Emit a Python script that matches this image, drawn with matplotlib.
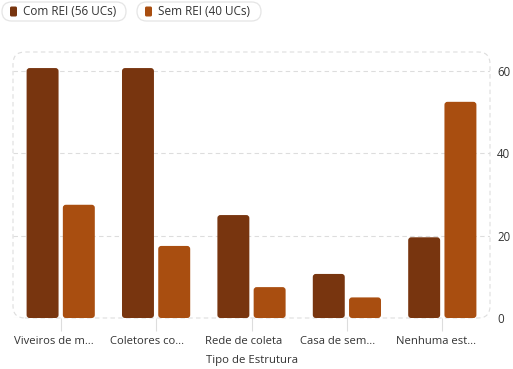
import matplotlib
matplotlib.use("Agg")
import matplotlib.pyplot as plt
from matplotlib.patches import FancyBboxPatch
from matplotlib.transforms import ScaledTranslation, blended_transform_factory
import numpy as np

plt.rcParams['font.family'] = ['Open Sans', 'DejaVu Sans']

categories = ["Viveiros de m…", "Coletores co…", "Rede de coleta", "Casa de sem…", "Nenhuma est…"]
com_rei = [60.7, 60.7, 25.0, 10.7, 19.6]
sem_rei = [27.5, 17.5, 7.5, 5.0, 52.5]
series_labels = ["Com REI (56 UCs)", "Sem REI (40 UCs)"]
colors = ["#78350f", "#a94e10"]
yticks = [0, 20, 40, 60]

W, H = 513, 369
fig = plt.figure(figsize=(W/100, H/100), dpi=100)
L, R, T, B = 13, 490, 52, 318
ax = fig.add_axes([L/W, 1 - B/H, (R-L)/W, (B-T)/H])
ymax = 64.6
ax.set_xlim(-0.5, 4.5)
ax.set_ylim(0, ymax)

xpp = 5.0 / (R - L)      # data x per pixel
ypp = ymax / (B - T)     # data y per pixel

for v in yticks:
    ax.axhline(v, color="#dddddd", lw=0.8, ls=(0, (4, 3)), zorder=0)

x = np.arange(len(categories))
bw = 0.335
off = 0.19
rad_px = 3
for vals, dx, c in [(com_rei, -off, colors[0]), (sem_rei, off, colors[1])]:
    bars = ax.bar(x + dx, vals, width=bw, color=c, alpha=0)
    for b in bars:
        x0, w, h = b.get_x(), b.get_width(), b.get_height()
        p = FancyBboxPatch((x0 + rad_px*xpp, 0 + rad_px*ypp), w - 2*rad_px*xpp, h - 2*rad_px*ypp,
                           boxstyle=f"round,pad={rad_px*xpp}",
                           mutation_aspect=ypp/xpp, facecolor=c, edgecolor="none", zorder=2)
        ax.add_patch(p)

for s in ax.spines.values():
    s.set_visible(False)

# dashed rounded border
border = FancyBboxPatch((0.0, 0.0), 1.0, 1.0, boxstyle="round,pad=0,rounding_size=0.025",
                        transform=ax.transAxes, fill=False, edgecolor="#dddddd", lw=0.8,
                        ls=(0, (4, 3)), zorder=0, clip_on=False,
                        mutation_aspect=(R-L)/(B-T))
ax.add_patch(border)

ax.yaxis.tick_right()
ax.set_yticks(yticks)
ax.set_xticks(x)
ax.set_xticklabels([""] * len(categories))
trans = blended_transform_factory(ax.transData, ax.transAxes) + \
    ScaledTranslation(-46.5/100, -23.5/100, fig.dpi_scale_trans)
for xi, lab in zip(x, categories):
    ax.text(xi, 0, lab, transform=trans, ha="left", va="center", fontsize=8.1,
            color="#333333", clip_on=False)
ax.tick_params(axis='y', length=0, pad=5, labelsize=8.3, labelcolor="#333333")
ax.tick_params(axis='x', length=9, color="#dddddd", width=0.8, pad=4)
ax.text(0.5, 0, "Tipo de Estrutura", transform=ax.transAxes + ScaledTranslation(0, -43/100, fig.dpi_scale_trans),
        ha="center", va="center", fontsize=8.2, color="#333333")

# legend pills
for i, (lab, c, x0, x1) in enumerate([(series_labels[0], colors[0], 2, 126),
                                      (series_labels[1], colors[1], 137, 261)]):
    pill = FancyBboxPatch((x0/W, 1 - 21/H), (x1-x0)/W, 19/H,
                          boxstyle=f"round,pad=0,rounding_size={9.5/W}",
                          transform=fig.transFigure, facecolor="white",
                          edgecolor="#e5e5e5", lw=0.9, mutation_aspect=W/H)
    fig.patches.append(pill)
    sq = FancyBboxPatch(((x0+8)/W, 1 - 16.5/H), 7/W, 10/H,
                        boxstyle=f"round,pad=0,rounding_size={1.5/W}",
                        transform=fig.transFigure, facecolor=c, edgecolor="none",
                        mutation_aspect=W/H)
    fig.patches.append(sq)
    fig.text((x0+21)/W, 1 - 11.5/H, lab, fontsize=8.5, color="#333333", va="center", ha="left")

fig.savefig("out.png", dpi=100)
